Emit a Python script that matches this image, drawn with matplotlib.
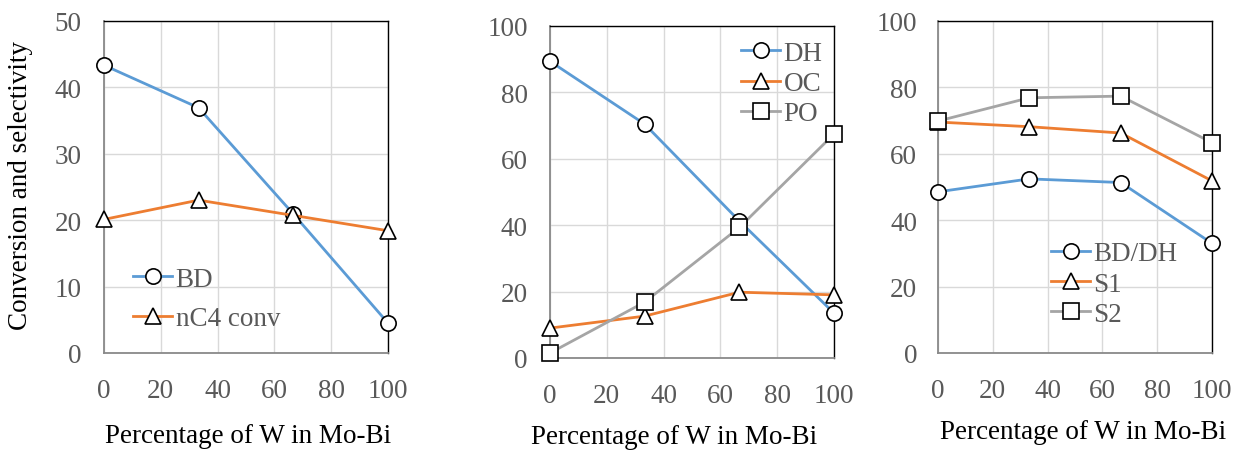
import matplotlib
matplotlib.use("Agg")
import matplotlib.pyplot as plt

plt.rcParams['font.family'] = ['Liberation Serif', 'DejaVu Serif']

x_pct = [0, 33.3, 66.7, 100]

# Panel 1
bd = [43.3, 36.9, 20.9, 4.5]
nc4_conv = [20.1, 23.0, 20.7, 18.4]
# Panel 2
dh = [89.3, 70.4, 41.2, 13.5]
oc = [9.0, 12.6, 19.8, 19.0]
po = [1.5, 16.8, 39.3, 67.4]
# Panel 3
bd_dh = [48.5, 52.4, 51.3, 33.0]
s1 = [69.5, 68.1, 66.2, 51.8]
s2 = [69.8, 76.8, 77.3, 63.3]

xticks = [0, 20, 40, 60, 80, 100]
ylim1, yticks1 = 50, [0, 10, 20, 30, 40, 50]
ylim2, yticks2 = 100, [0, 20, 40, 60, 80, 100]

BLUE, ORANGE, GRAY = '#5B9BD5', '#ED7D31', '#A5A5A5'
TICKC = '#595959'
FS = 19.5

W, H = 1238, 452
fig = plt.figure(figsize=(W / 100, H / 100), dpi=100)


def make_ax(left, right, top, bottom):
    return fig.add_axes([left / W, 1 - bottom / H, (right - left) / W, (bottom - top) / H])


def style(ax, ymax, yticks, ypad):
    ax.set_xlim(0, 100)
    ax.set_ylim(0, ymax)
    ax.set_xticks(xticks)
    ax.set_yticks(yticks)
    ax.grid(True, color='#D9D9D9', lw=1.0)
    ax.set_axisbelow(True)
    ax.tick_params(length=0, labelsize=FS, colors=TICKC)
    ax.tick_params(axis='y', pad=ypad)
    ax.tick_params(axis='x', pad=18)
    for s in ['top', 'right']:
        ax.spines[s].set_color('black')
        ax.spines[s].set_linewidth(1.0)
    for s in ['left', 'bottom']:
        ax.spines[s].set_color('#898989')
        ax.spines[s].set_linewidth(1.3)


def series(ax, y, color, marker, label):
    ax.plot(x_pct, y, color=color, lw=2.0, marker=marker, ms=11,
            mfc='white', mec='black', mew=1.2, label=label, clip_on=False, zorder=3)


def legend(ax, xpx, ypx, spacing):
    ax.legend(loc='center left', bbox_to_anchor=(xpx / W, 1 - ypx / H),
              bbox_transform=fig.transFigure, frameon=False, fontsize=FS,
              handlelength=1.45, handletextpad=0.12, borderpad=0, borderaxespad=0,
              labelspacing=spacing, labelcolor=TICKC)


ax1 = make_ax(104, 388, 21.7, 354)
style(ax1, ylim1, yticks1, 16)
series(ax1, bd, BLUE, 'o', 'BD')
series(ax1, nc4_conv, ORANGE, '^', 'nC4 conv')
legend(ax1, 133, 300, 0.55)

ax2 = make_ax(550, 834, 26.7, 359)
style(ax2, ylim2, yticks2, 16)
series(ax2, dh, BLUE, 'o', 'DH')
series(ax2, oc, ORANGE, '^', 'OC')
series(ax2, po, GRAY, 's', 'PO')
legend(ax2, 741, 84.5, 0.2)

ax3 = make_ax(938, 1212, 21.7, 354)
style(ax3, ylim2, yticks2, 15)
series(ax3, bd_dh, BLUE, 'o', 'BD/DH')
series(ax3, s1, ORANGE, '^', 'S1')
series(ax3, s2, GRAY, 's', 'S2')
legend(ax3, 1051, 285, 0.2)

xl = 'Percentage of W in Mo-Bi'
fig.text(248 / W, 1 - 437 / H, xl, ha='center', va='center', fontsize=FS, color='black')
fig.text(674 / W, 1 - 438 / H, xl, ha='center', va='center', fontsize=FS, color='black')
fig.text(1083 / W, 1 - 433 / H, xl, ha='center', va='center', fontsize=FS, color='black')
fig.text(21 / W, 1 - 185 / H, 'Conversion and selectivity', rotation=90,
         ha='center', va='center', fontsize=FS, color='black')

fig.savefig('out.png', dpi=100)
